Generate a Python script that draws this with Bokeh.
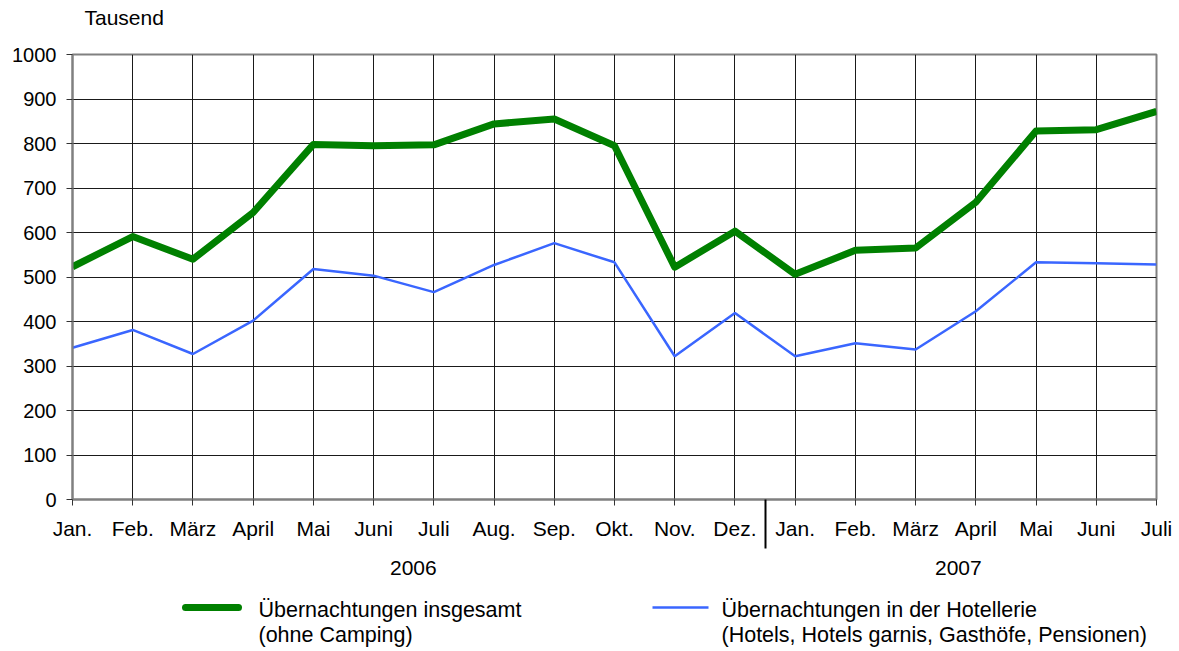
from bokeh.plotting import figure
from bokeh.models import Range1d, FixedTicker, LinearAxis
from bokeh.layouts import column
from bokeh.embed import file_html
from bokeh.resources import INLINE

months = ["Jan.", "Feb.", "März", "April", "Mai", "Juni", "Juli", "Aug.", "Sep.", "Okt.", "Nov.", "Dez.",
          "Jan.", "Feb.", "März", "April", "Mai", "Juni", "Juli"]
years = ["2006", "2007"]
insgesamt = [523, 591, 540, 645, 798, 795, 797, 844, 855, 795, 522, 603, 506, 560, 565, 668, 828, 831, 872]
hotellerie = [341, 381, 327, 402, 518, 503, 466, 527, 576, 533, 322, 419, 322, 351, 337, 423, 533, 531, 528]
legend_line1 = ["Übernachtungen insgesamt", "Übernachtungen in der Hotellerie"]
legend_line2 = ["(ohne Camping)", "(Hotels, Hotels garnis, Gasthöfe, Pensionen)"]
unit_label = "Tausend"
y_ticks = list(range(0, 1001, 100))

FONT = "Liberation Sans"
GREEN = "#008000"
BLUE = "#3A66FF"
W = 1175
LEFT, RIGHT = 72, 1156
xs = list(range(len(months)))
year_pos = [5.66, 14.71]      # label positions under the month axis
year_sep = [11.5]             # separator between Dez. and Jan.


def blank(height):
    f = figure(width=W, height=height, output_backend="svg", toolbar_location=None,
               x_range=Range1d(LEFT, RIGHT), y_range=Range1d(height, 0),
               x_axis_type=None, y_axis_type=None,
               min_border_left=LEFT, min_border_right=W - RIGHT, min_border_top=0, min_border_bottom=0)
    f.outline_line_color = None
    f.grid.visible = False
    f.background_fill_color = "white"
    f.border_fill_color = "white"
    return f


# top strip with unit label
H0 = 35
top = blank(H0)
top.text(x=[84], y=[17], text=[unit_label], text_font={"value": FONT}, text_font_size="21px",
         text_baseline="middle", text_align="left", text_color="black")

# main chart
p = figure(width=W, height=555, output_backend="svg", toolbar_location=None,
           x_range=Range1d(0, len(months) - 1), y_range=Range1d(0, 1000),
           min_border_left=LEFT, min_border_right=W - RIGHT, min_border_top=54 - H0, min_border_bottom=91)
p.background_fill_color = "white"
p.border_fill_color = "white"
p.outline_line_color = "#808080"
p.outline_line_width = 2

p.xaxis.ticker = FixedTicker(ticks=xs, minor_ticks=year_sep)
p.xaxis.major_label_overrides = {i: m for i, m in enumerate(months)}
p.yaxis.ticker = FixedTicker(ticks=y_ticks)
for ax in (p.xaxis[0], p.yaxis[0]):
    ax.axis_line_color = "#808080"
    ax.axis_line_width = 2
    ax.major_tick_line_color = "#333333"
    ax.major_tick_in = 0
    ax.major_tick_out = 6
    ax.major_label_text_font = FONT
    ax.major_label_text_color = "black"
p.yaxis.minor_tick_line_color = None
p.yaxis.major_label_text_font_size = "20px"
p.yaxis.major_label_standoff = 10
p.xaxis.major_label_text_font_size = "21px"
p.xaxis.major_label_standoff = -32
p.xaxis.minor_tick_line_color = "black"
p.xaxis.minor_tick_line_width = 2
p.xaxis.minor_tick_in = 0
p.xaxis.minor_tick_out = 49

year_axis = LinearAxis(ticker=FixedTicker(ticks=year_pos),
                       major_label_overrides={pos: y for pos, y in zip(year_pos, years)},
                       axis_line_color=None, major_tick_line_color=None, minor_tick_line_color=None,
                       major_tick_out=0, major_tick_in=0, major_label_standoff=18,
                       major_label_text_font=FONT, major_label_text_font_size="21px",
                       major_label_text_color="black")
p.add_layout(year_axis, "below")

p.xgrid.ticker = FixedTicker(ticks=xs)
p.ygrid.ticker = FixedTicker(ticks=y_ticks)
for g in (p.xgrid[0], p.ygrid[0]):
    g.grid_line_color = "#1a1a1a"
    g.grid_line_width = 1

p.line(xs, hotellerie, line_color=BLUE, line_width=2.5)
p.line(xs, insgesamt, line_color=GREEN, line_width=7, line_join="round")

# legend strip (page-pixel coordinates)
H2 = 61
lg = blank(H2)
sample_x = [[185, 238], [652, 708]]
text_x = [258, 721]
lg.line(sample_x[0], [17, 17], line_color=GREEN, line_width=7, line_cap="round")
lg.line(sample_x[1], [17, 17], line_color=BLUE, line_width=2.5)
lg.text(x=text_x, y=[19, 19], text=legend_line1, text_font={"value": FONT}, text_font_size="21.5px",
        text_baseline="middle", text_align="left", text_color="black")
lg.text(x=text_x, y=[44, 44], text=legend_line2, text_font={"value": FONT}, text_font_size="21.5px",
        text_baseline="middle", text_align="left", text_color="black")

layout = column(top, p, lg, spacing=0)
open("out.html", "w").write(file_html(layout, INLINE))
